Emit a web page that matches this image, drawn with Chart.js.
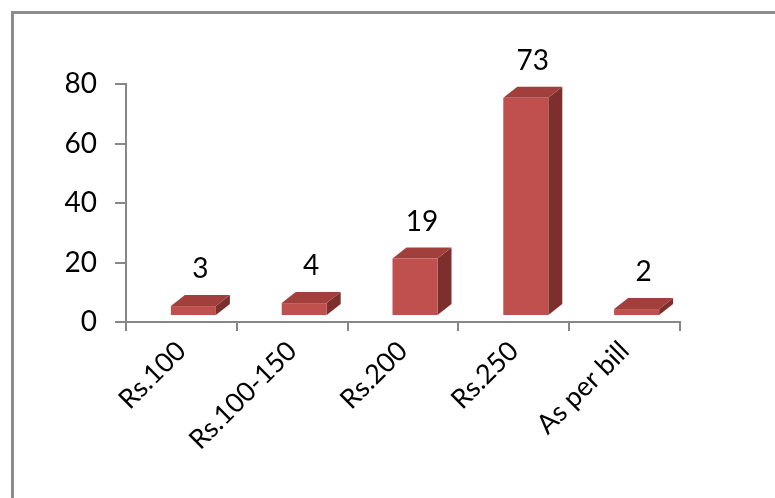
<!DOCTYPE html>
<html>
<head>
<meta charset="utf-8">
<script src="https://cdn.jsdelivr.net/npm/chart.js@4"></script>
<style>
  html, body { margin: 0; padding: 0; background: #fff; overflow: hidden; }
  #chart { display: block; }
</style>
</head>
<body>
<canvas id="chart" width="775" height="498"></canvas>
<script>
const categories = ["Rs.100", "Rs.100-150", "Rs.200", "Rs.250", "As per bill"];
const counts = [3, 4, 19, 73, 2];
const yTicks = [0, 20, 40, 60, 80];

const FONT = "Lato, 'Open Sans', sans-serif";

// grey outer frame, only top and left edges are in view
const frame = {
  id: "frame",
  beforeDraw(chart) {
    const { ctx } = chart;
    ctx.save();
    ctx.strokeStyle = "#8c8c8c";
    ctx.lineWidth = 3;
    ctx.beginPath();
    ctx.moveTo(12.5, chart.height + 5);
    ctx.lineTo(12.5, 12.5);
    ctx.lineTo(chart.width + 5, 12.5);
    ctx.stroke();
    ctx.restore();
  }
};

// 3D column look, drawn from the scales
const bars3d = {
  id: "bars3d",
  afterDatasetsDraw(chart) {
    const { ctx, scales: { x, y } } = chart;
    const w = 45, dx = 14, dy = 11, shiftX = 12, shiftY = 7;
    ctx.save();
    counts.forEach((v, i) => {
      const cx = x.getPixelForValue(i) + shiftX;
      const left = cx - w / 2, right = cx + w / 2;
      const bottom = y.getPixelForValue(0) - shiftY;
      const top = y.getPixelForValue(v) - shiftY;

      // side
      ctx.fillStyle = "#7d2f2d";
      ctx.beginPath();
      ctx.moveTo(right, top);
      ctx.lineTo(right + dx, top - dy);
      ctx.lineTo(right + dx, bottom - dy);
      ctx.lineTo(right, bottom);
      ctx.closePath();
      ctx.fill();

      // top
      ctx.fillStyle = "#a03f3c";
      ctx.beginPath();
      ctx.moveTo(left, top);
      ctx.lineTo(left + dx, top - dy);
      ctx.lineTo(right + dx, top - dy);
      ctx.lineTo(right, top);
      ctx.closePath();
      ctx.fill();

      // front
      ctx.fillStyle = "#c0504d";
      ctx.fillRect(left, top, w, bottom - top);

      // value label
      ctx.fillStyle = "#000";
      ctx.font = "28px " + FONT;
      ctx.textAlign = "center";
      ctx.textBaseline = "bottom";
      ctx.fillText(String(v), cx + dx / 2, top - dy - 12);
    });
    ctx.restore();
  }
};

new Chart(document.getElementById("chart"), {
  type: "bar",
  data: {
    labels: categories,
    datasets: [{
      data: counts,
      backgroundColor: "rgba(0,0,0,0)",
      borderWidth: 0
    }]
  },
  options: {
    responsive: false,
    animation: false,
    events: [],
    layout: { padding: { top: 84, right: 95, left: 0, bottom: 0 } },
    plugins: { legend: { display: false }, tooltip: { enabled: false } },
    scales: {
      x: {
        offset: true,
        grid: { offset: true, drawOnChartArea: false, color: "#878787", lineWidth: 2, tickLength: 9 },
        border: { color: "#878787", width: 2 },
        ticks: {
          color: "#000",
          font: { family: FONT, size: 27 },
          maxRotation: 45, minRotation: 45,
          padding: 4
        },
        afterFit(scale) { scale.height = 498 - 322; }
      },
      y: {
        min: 0, max: 80,
        afterBuildTicks(scale) { scale.ticks = yTicks.map(v => ({ value: v })); },
        grid: { drawOnChartArea: false, color: "#878787", lineWidth: 2, tickLength: 11 },
        border: { color: "#878787", width: 2 },
        ticks: {
          color: "#000",
          font: { family: FONT, size: 28 },
          padding: 18
        },
        afterFit(scale) { scale.width = 126; }
      }
    }
  },
  plugins: [frame, bars3d]
});
</script>
</body>
</html>
